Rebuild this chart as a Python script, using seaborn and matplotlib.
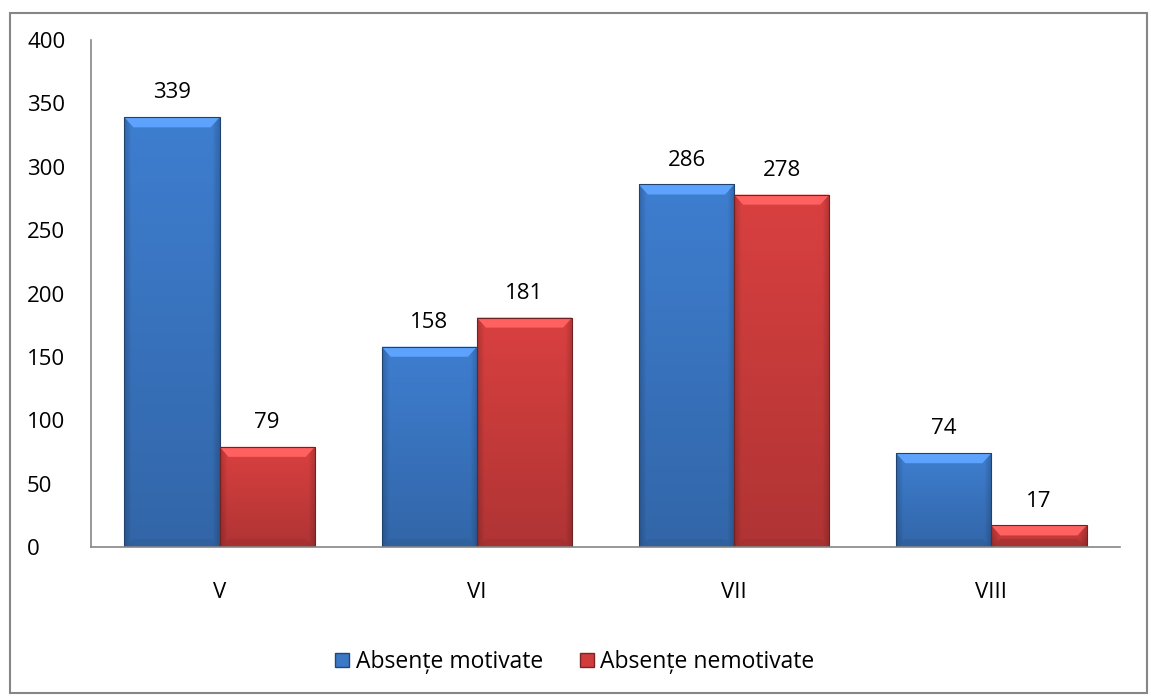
import numpy as np
import pandas as pd
import matplotlib
matplotlib.use("Agg")
import matplotlib.pyplot as plt
import seaborn as sns
from matplotlib.patches import Rectangle, Polygon

# date
clase = ["V", "VI", "VII", "VIII"]
motivate = [339, 158, 286, 74]
nemotivate = [79, 181, 278, 17]
serii = ["Absențe motivate", "Absențe nemotivate"]

df = pd.DataFrame({
    "clasa": clase * 2,
    "valoare": motivate + nemotivate,
    "serie": [serii[0]] * 4 + [serii[1]] * 4,
})

sns.set_theme(style="white")
plt.rcParams["font.family"] = ["Open Sans", "DejaVu Sans"]
plt.rcParams["text.color"] = "black"
plt.rcParams["xtick.color"] = "black"
plt.rcParams["ytick.color"] = "black"

fig = plt.figure(figsize=(11.51, 6.96), dpi=100)
ax = fig.add_axes([91 / 1151, 1 - 547 / 696, (1120 - 91) / 1151, (547 - 40) / 696])

culori = {serii[0]: "#3b78c6", serii[1]: "#cf3d3d"}
sns.barplot(data=df, x="clasa", y="valoare", hue="serie", palette=culori,
            width=0.74, saturation=1, ax=ax, legend=False)

ax.set_ylim(0, 400)
ax.set_xlim(-0.5, 3.5)

# efect de tesitura (bevel) peste bare
dx = 9 * 4 / 1029
dy = 10 * 400 / 507

def bevel(patch, base):
    x, y = patch.get_x(), patch.get_y()
    w, h = patch.get_width(), patch.get_height()
    rgb = np.array(matplotlib.colors.to_rgb(base))
    z = patch.get_zorder()
    n = 80
    xs = np.linspace(0, 1, n)
    shade = 1 - 0.18 * np.clip(np.abs(xs - 0.5) * 2 - 0.85, 0, 1) / 0.15
    vert = np.linspace(0.85, 1.05, n)
    img = rgb[None, None, :] * shade[None, :, None] * vert[:, None, None]
    img = np.clip(img, 0, 1)
    im = ax.imshow(img, extent=[x, x + w, y, y + h], origin="lower",
                   aspect="auto", zorder=z + 0.1)
    im.set_clip_path(patch)
    ty = min(dy, h / 2)
    top = y + h
    light = np.clip(rgb * 1.15 + 0.1, 0, 1)
    ax.add_patch(Polygon([(x, top), (x + w, top), (x + w - dx, top - ty), (x + dx, top - ty)],
                         closed=True, facecolor=light, edgecolor="none", zorder=z + 0.2))
    dark = np.clip(rgb * 0.78, 0, 1)
    ax.add_patch(Polygon([(x, y), (x + w, y), (x + w - dx, y + ty * 0.8), (x + dx, y + ty * 0.8)],
                         closed=True, facecolor=dark, edgecolor="none", alpha=0.6, zorder=z + 0.2))
    patch.set_edgecolor(np.clip(rgb * 0.55, 0, 1))
    patch.set_linewidth(0.8)
    patch.set_zorder(z + 0.3)
    patch.set_facecolor("none")

for cont, serie in zip(ax.containers, serii):
    for p in cont:
        bevel(p, culori[serie])
    ax.bar_label(cont, padding=10, fontsize=16, color="black")

ax.set_yticks(range(0, 401, 50))
ax.set_yticklabels([str(v) for v in range(0, 401, 50)], ha="left")
ax.tick_params(axis="both", labelsize=16, length=0, labelcolor="black")
ax.tick_params(axis="x", pad=25)
ax.tick_params(axis="y", pad=46)
ax.set_xlabel("")
ax.set_ylabel("")
for s in ["top", "right"]:
    ax.spines[s].set_visible(False)
for s in ["left", "bottom"]:
    ax.spines[s].set_color("#868686")
    ax.spines[s].set_linewidth(1.2)

# legenda
handles = [Rectangle((0, 0), 1, 1, facecolor=culori[s],
                     edgecolor=np.clip(np.array(matplotlib.colors.to_rgb(culori[s])) * 0.6, 0, 1))
           for s in serii]
fig.legend(handles, serii, loc="center", bbox_to_anchor=(575 / 1151, 1 - 662 / 696),
           ncol=2, frameon=False, fontsize=16.5, handlelength=0.6, handleheight=0.6,
           handletextpad=0.3, columnspacing=1.6, labelcolor="black")

# chenar
fig.add_artist(Rectangle((10 / 1151, 3 / 696), 1137 / 1151, 680 / 696,
                         transform=fig.transFigure, fill=False,
                         edgecolor="#868686", linewidth=1.5))

fig.savefig("out.png", dpi=100)
